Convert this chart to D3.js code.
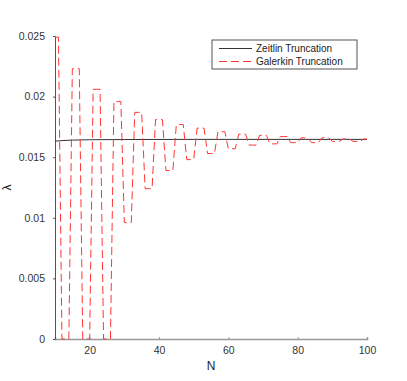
<!DOCTYPE html>
<meta charset="utf-8">
<style>
  body { margin: 0; background: #fff; }
  text { font-family: "Liberation Sans", Arial, sans-serif; }
  .tick text { fill: #333; font-size: 10.5px; }
</style>
<body>
<div id="chart"></div>
<script src="https://d3js.org/d3.v7.min.js"></script>
<script>
  var w = 407, h = 381;

  // Zeitlin truncation (almost flat)
  var zeitlinN = [10, 12, 15, 20, 30, 50, 100];
  var zeitlinL = [0.01632, 0.01637, 0.01641, 0.01644, 0.01646, 0.01647, 0.01647];

  // Galerkin truncation, one value per N = 10..100
  var galerkinN = d3.range(10, 101);
  var galerkinL = [
    0.0249, 0.0249,
    0, 0, 0,                      0.0223, 0.0223, 0.0223,
    0, 0, 0,                      0.0206, 0.0206, 0.0206,
    0, 0, 0,                      0.0196, 0.0196, 0.0196,
    0.0096, 0.0096, 0.0096,       0.0187, 0.0187, 0.0187,
    0.0124, 0.0124, 0.0124,       0.0181, 0.0181, 0.0181,
    0.0139, 0.0139, 0.0139,       0.0177, 0.0177, 0.0177,
    0.0148, 0.0148, 0.0148,       0.0174, 0.0174, 0.0174,
    0.0153, 0.0153, 0.0153,       0.0171, 0.0171, 0.0171,
    0.0157, 0.0157, 0.0157,       0.0169, 0.0169, 0.0169,
    0.0160, 0.0160, 0.0160,       0.0168, 0.0168, 0.0168,
    0.0161, 0.0161, 0.0161,       0.0167, 0.0167, 0.0167,
    0.0162, 0.0162, 0.0162,       0.0166, 0.0166, 0.0166,
    0.0162, 0.0162, 0.0162,       0.0166, 0.0166, 0.0166,
    0.0163, 0.0163, 0.0163,       0.0165, 0.0165, 0.0165,
    0.0163, 0.0163, 0.0163,       0.0165, 0.0165
  ];

  var xTicks = [20, 40, 60, 80, 100];
  var yTicks = [0, 0.005, 0.01, 0.015, 0.02, 0.025];
  var legendLabels = ["Zeitlin Truncation", "Galerkin Truncation"];

  var red = "#ff3535";

  var svg = d3.select("#chart").append("svg")
    .attr("width", w)
    .attr("height", h);

  var x = d3.scaleLinear().domain([10, 100]).range([55, 367]);
  var y = d3.scaleLinear().domain([0, 0.025]).range([339, 36]);

  // axes
  var xAxis = svg.append("g")
    .attr("transform", "translate(0," + y(0) + ")")
    .call(d3.axisBottom(x).tickValues(xTicks).tickSize(-2).tickPadding(8));
  xAxis.select(".domain").attr("stroke", "#999").attr("stroke-width", 1.5);
  xAxis.selectAll(".tick line").attr("stroke", "#999");

  var yAxis = svg.append("g")
    .attr("transform", "translate(" + x(10) + ",0)")
    .call(d3.axisLeft(y).tickValues(yTicks).tickSize(2).tickPadding(8)
      .tickFormat(function (d) { return String(d); }));
  yAxis.select(".domain").attr("stroke", "#555");
  yAxis.selectAll(".tick line").attr("stroke", "#555");

  svg.append("text")
    .attr("x", x(55))
    .attr("y", 370)
    .attr("text-anchor", "middle")
    .attr("font-size", 12)
    .attr("fill", "#222")
    .text("N");

  svg.append("text")
    .attr("transform", "translate(11," + y(0.0125) + ") rotate(-90)")
    .attr("text-anchor", "middle")
    .attr("font-size", 12)
    .attr("fill", "#222")
    .text("λ");

  // lines
  var line = d3.line()
    .x(function (d) { return x(d[0]); })
    .y(function (d) { return y(d[1]); });

  svg.append("path")
    .datum(d3.zip(zeitlinN, zeitlinL))
    .attr("fill", "none")
    .attr("stroke", "#333")
    .attr("stroke-width", 1)
    .attr("d", line);

  svg.append("path")
    .datum(d3.zip(galerkinN, galerkinL))
    .attr("fill", "none")
    .attr("stroke", red)
    .attr("stroke-width", 1)
    .attr("stroke-dasharray", "8,4")
    .attr("d", line);

  // legend
  var lg = svg.append("g").attr("transform", "translate(212,40)");
  lg.append("rect")
    .attr("width", 145).attr("height", 29)
    .attr("fill", "#fff").attr("stroke", "#555");
  var styles = [{ c: "#333", dash: null }, { c: red, dash: "8,4" }];
  legendLabels.forEach(function (t, i) {
    var yy = 8.5 + i * 13;
    lg.append("line")
      .attr("x1", 7).attr("x2", 40).attr("y1", yy).attr("y2", yy)
      .attr("stroke", styles[i].c)
      .attr("stroke-dasharray", styles[i].dash);
    lg.append("text")
      .attr("x", 44).attr("y", yy + 3.5)
      .attr("font-size", 10)
      .attr("fill", "#222")
      .text(t);
  });
</script>
</body>
